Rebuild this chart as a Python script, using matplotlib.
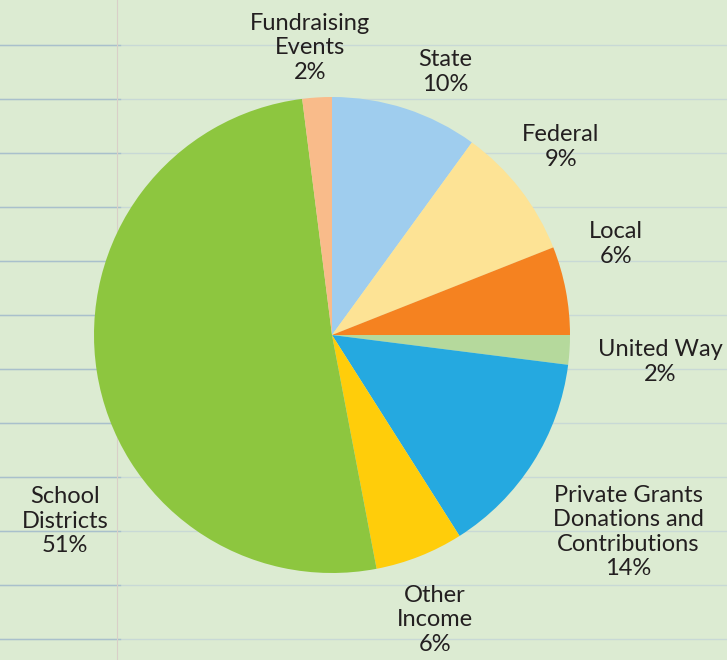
"""Funding sources pie on a notebook-paper background."""
import matplotlib
matplotlib.use("Agg")
import matplotlib.pyplot as plt

labels = ["State", "Federal", "Local", "United Way",
          "Private Grants\nDonations and\nContributions", "Other\nIncome",
          "School\nDistricts", "Fundraising\nEvents"]
shares = [10, 9, 6, 2, 14, 6, 51, 2]
colors = ["#9fcdee", "#fde395", "#f58220", "#b5d99c",
          "#25a9e0", "#ffcd0a", "#8dc63f", "#f9bb8a"]
# label centres in pixel coords (x, y from top)
label_pos = [(445, 72), (561, 147), (616, 244), (660, 362),
             (628, 532), (435, 620), (65, 521), (310, 48)]

W, H = 727, 660
fig = plt.figure(figsize=(W / 100, H / 100), dpi=100)
fig.patch.set_facecolor("#dcebd2")
ax = fig.add_axes([0, 0, 1, 1])
ax.set_facecolor("#dcebd2")
ax.set_xlim(0, W); ax.set_ylim(0, H)
ax.set_aspect("equal"); ax.axis("off")

# ruled lines, stronger towards the left edge like the paper texture
for y in range(45, H, 54):
    ax.axhline(H - y, color="#c8d9d6", lw=1.0, zorder=0)
    ax.plot([0, 120], [H - y, H - y], color="#a9c0cc", lw=1.0, zorder=0)
ax.axvline(117, color="#d9cfc8", lw=0.8, zorder=0)

ax.pie(shares, colors=colors, startangle=90, counterclock=False,
       center=(332, H - 335), radius=238, frame=True,
       wedgeprops=dict(linewidth=0))
ax.set_xlim(0, W); ax.set_ylim(0, H); ax.axis("off")

for lab, v, (x, y) in zip(labels, shares, label_pos):
    ax.text(x, H - y, f"{lab}\n{v}%", ha="center", va="center",
            fontsize=17, family="Lato", color="#231f20", linespacing=1.2)

fig.savefig("out.png", dpi=100, facecolor=fig.get_facecolor())
